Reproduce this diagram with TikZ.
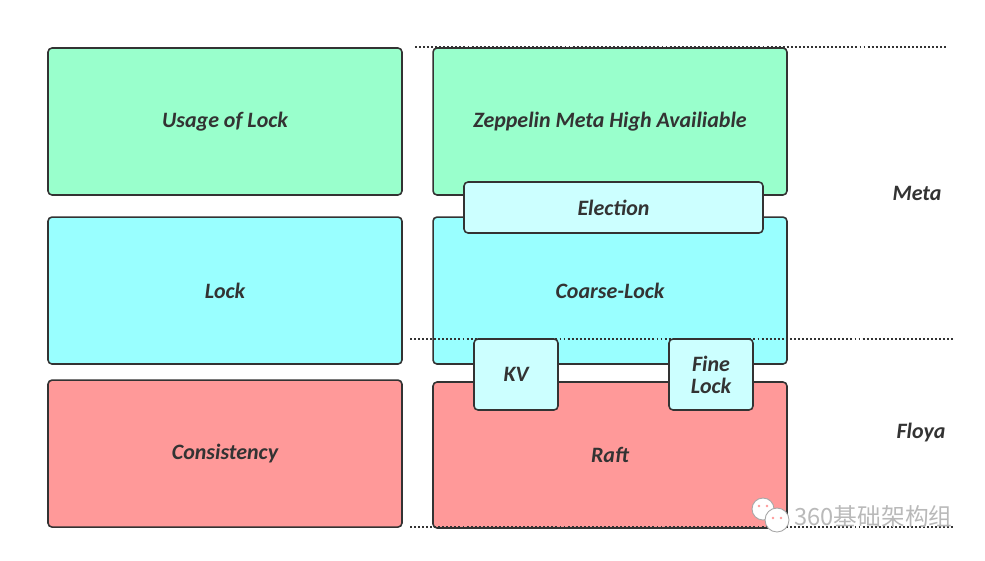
\documentclass[tikz,border=0pt]{standalone}
\usepackage{fontspec}
\setmainfont{Carlito}
\newfontfamily\cjkfont{Noto Sans CJK SC}
\usetikzlibrary{positioning}
\definecolor{mint}{HTML}{99FFCC}
\definecolor{aqua}{HTML}{99FFFF}
\definecolor{paleaqua}{HTML}{CCFFFF}
\definecolor{rose}{HTML}{FF9999}
\definecolor{ink}{HTML}{333333}

\begin{document}
\begin{tikzpicture}[x=0.02cm, y=-0.02cm,
    box/.style={draw=ink, line width=0.9pt, rounded corners=0.08cm, text=ink, inner sep=0pt, align=center,
      font=\bfseries\itshape\fontsize{12.5}{12.5}\selectfont},
    bigbox/.style={box, minimum width=7.08cm, minimum height=2.94cm},
    tag/.style={text=ink, font=\bfseries\itshape\fontsize{12.5}{14}\selectfont},
    sep/.style={draw=ink, line width=1.1pt, dash pattern=on 1.1pt off 1.2pt}]
    \useasboundingbox (0,0) rectangle (985,561);
    % Left column
    \node[bigbox, fill=mint] (usage) at (225,121.5) {Usage of Lock};
    \node[bigbox, fill=aqua, below=0.41cm of usage] (lock) {Lock};
    \node[bigbox, fill=rose, below=0.29cm of lock] (consist) {Consistency};
    % Right column
    \node[bigbox, fill=mint, right=0.59cm of usage] (zep) {Zeppelin Meta High Availiable};
    \node[bigbox, fill=aqua, right=0.59cm of lock] (coarse) {Coarse-Lock};
    \node[bigbox, fill=rose, minimum height=2.92cm] (raft) at (610,455) {Raft};
    % Layer lines
    \draw[sep] (415,47) -- (947,47);
    \draw[sep] (410,339) -- (953,339);
    \draw[sep] (410,527) -- (953,527);
    % Small boxes
    \node[box, fill=paleaqua, minimum width=5.98cm, minimum height=1.02cm] (elect) at (613.5,207.5) {Election};
    \node[box, fill=paleaqua, minimum width=1.68cm, minimum height=1.42cm] (kv) at (516,374.5) {KV};
    \node[box, fill=paleaqua, minimum width=1.68cm, minimum height=1.42cm] (fine) at (711,374.5) {Fine\\Lock};
    % Layer names
    \node[tag] (meta) at (917,193) {Meta};
    \node[tag] (floya) at (921,433) {Floya};
    % Watermark
    \draw[gray!70, fill=white, line width=0.5pt] (763,509) circle (11);
    \fill[rose] (759,506) circle (1.4) (767,506) circle (1.4);
    \draw[gray!70, fill=white, line width=0.5pt] (777,520) circle (12);
    \fill[rose] (773,518) circle (1.4) (781,518) circle (1.4);
    \node[text=gray!55, font=\cjkfont\fontsize{13.5}{15}\selectfont, anchor=west, inner sep=0pt] (mark) at (794,516) {360基础架构组};
\end{tikzpicture}
\end{document}
